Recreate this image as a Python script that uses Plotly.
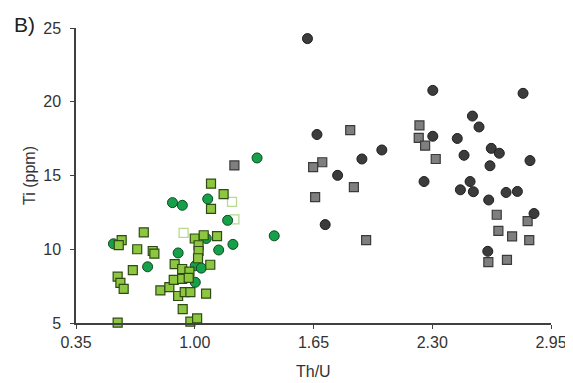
import plotly.graph_objects as go

# Green circles
gc_x = [0.555, 0.742, 0.878, 0.932, 0.909, 1.071, 1.063, 1.131, 1.003, 1.036, 1.003, 1.180, 1.209, 1.341, 1.435]
gc_y = [10.37, 8.81, 13.16, 12.98, 9.75, 13.41, 10.73, 9.95, 8.88, 8.72, 7.76, 11.96, 10.33, 16.19, 10.91]

# Green squares
gs_x = [0.578, 0.578, 0.593, 0.611, 0.600, 0.584, 0.661, 0.685, 0.721, 0.770, 0.779, 0.812,
        0.861, 0.885, 0.890, 0.931, 0.931, 0.971, 0.967, 0.909, 0.945, 0.976, 1.062, 0.934,
        0.976, 1.013, 1.000, 1.049, 1.122, 1.021, 1.021, 1.018, 1.085, 1.089, 1.158, 1.089]
gs_y = [5.02, 8.14, 7.72, 7.32, 10.62, 10.28, 8.59, 10.00, 11.15, 9.88, 9.70, 7.21,
        7.43, 7.92, 8.99, 8.66, 7.99, 8.48, 8.06, 6.83, 7.09, 7.09, 6.99, 5.94,
        5.09, 5.31, 10.73, 10.95, 10.89, 10.27, 9.88, 9.39, 8.95, 14.45, 13.74, 12.74]

# Open (pale) squares
os_x = [0.939, 1.204, 1.217]
os_y = [11.11, 13.21, 12.02]

# Grey squares
gq_x = [1.217, 1.851, 1.698, 1.648, 1.871, 1.659, 1.938, 2.230, 2.226, 2.261, 2.319,
        2.653, 2.822, 2.662, 2.737, 2.831, 2.607, 2.709]
gq_y = [15.68, 18.07, 15.90, 15.57, 14.21, 13.54, 10.62, 18.40, 17.55, 17.02, 16.12,
        12.34, 11.91, 11.24, 10.87, 10.62, 9.13, 9.28]

# Dark grey circles
dc_x = [1.617, 1.669, 1.915, 2.024, 1.782, 1.714, 2.303, 2.797, 2.520, 2.556, 2.303, 2.437, 2.474,
        2.623, 2.667, 2.835, 2.616, 2.255, 2.507, 2.454, 2.525, 2.609, 2.704, 2.766, 2.857, 2.604]
dc_y = [24.28, 17.78, 16.12, 16.73, 15.01, 11.67, 20.77, 20.57, 19.03, 18.29, 17.66, 17.51, 16.37,
        16.84, 16.51, 16.01, 15.66, 14.59, 14.59, 14.03, 13.90, 13.34, 13.85, 13.92, 12.42, 9.86]

x_ticks = [0.35, 1.00, 1.65, 2.30, 2.95]
x_ticktext = ["0.35", "1.00", "1.65", "2.30", "2.95"]
y_ticks = [5, 10, 15, 20, 25]

fig = go.Figure()
fig.add_trace(go.Scatter(x=os_x, y=os_y, mode="markers",
                         marker=dict(symbol="square", size=9, color="white",
                                     line=dict(color="#b9d98f", width=1.3))))
fig.add_trace(go.Scatter(x=gq_x, y=gq_y, mode="markers",
                         marker=dict(symbol="square", size=9, color="#7f7f7f",
                                     line=dict(color="#3a3a3a", width=1.2))))
fig.add_trace(go.Scatter(x=dc_x, y=dc_y, mode="markers",
                         marker=dict(symbol="circle", size=10, color="#3c3c3c",
                                     line=dict(color="#1e1e1e", width=1))))
fig.add_trace(go.Scatter(x=gc_x, y=gc_y, mode="markers",
                         marker=dict(symbol="circle", size=10, color="#17a04a",
                                     line=dict(color="#0c4a22", width=1))))
fig.add_trace(go.Scatter(x=gs_x, y=gs_y, mode="markers",
                         marker=dict(symbol="square", size=9, color="#8dc63f",
                                     line=dict(color="#2f4a14", width=1.2))))
fig.update_traces(cliponaxis=False)

W, H = 565, 375
L, R, T, B = 68, 22, 16, 60
PW, PH = W - L - R, H - T - B

font_family = "Liberation Sans, Arial, sans-serif"
fig.update_layout(
    width=W, height=H,
    margin=dict(l=L, r=R, t=T, b=B),
    paper_bgcolor="white", plot_bgcolor="white",
    showlegend=False,
    font=dict(family=font_family, size=16, color="#333333"),
    xaxis=dict(range=[0.35, 2.95], tickvals=x_ticks, ticktext=x_ticktext,
               showgrid=False, zeroline=False, showline=True, linecolor="#404040", linewidth=1.5,
               ticks="outside", ticklen=4, tickcolor="#404040", automargin=False),
    yaxis=dict(range=[5, 25], tickvals=y_ticks,
               showgrid=False, zeroline=False, showline=True, linecolor="#404040", linewidth=1.5,
               ticks="outside", ticklen=4, tickcolor="#404040", ticklabelstandoff=6,
               title=dict(text="Ti (ppm)", font=dict(size=16), standoff=4)),
    annotations=[
        dict(text="B)", x=(4 - L) / PW, y=1 + (T - 12) / PH, xref="paper", yref="paper",
             showarrow=False, xanchor="left", yanchor="middle",
             font=dict(size=21, color="#222222")),
        dict(text="Th/U", x=0.5, y=-49 / PH, xref="paper", yref="paper",
             showarrow=False, xanchor="center", yanchor="middle",
             font=dict(size=16, color="#333333")),
    ],
)

fig.write_html("out.html")
